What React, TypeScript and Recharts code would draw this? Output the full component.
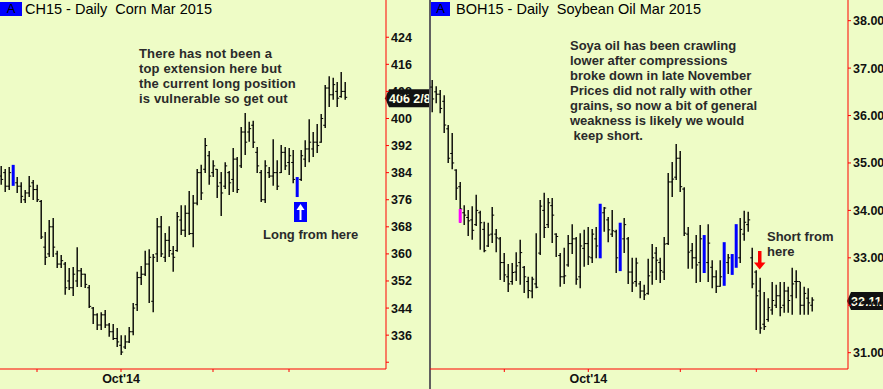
import React from "react";
import { ComposedChart, Bar, XAxis, YAxis, ReferenceLine } from "recharts";

const FONT = '"Liberation Sans", Arial, Helvetica, sans-serif';
const BG = "#EEFCC6";
const AXIS_RED = "#FF0000";

// CH15 daily corn, Aug-Dec 2014 (cents)
const cornHigh = [
  386.0, 385.1, 385.7, 386.3, 382.7, 381.2, 378.9, 383.0, 381.8, 380.4,
  375.9, 366.5, 370.0, 370.6, 360.9, 359.7, 357.6, 355.8, 356.1, 362.0,
  355.8, 354.1, 350.8, 344.3, 342.5, 342.8, 343.4, 339.6, 339.3, 338.1,
  336.0, 336.0, 338.4, 345.5, 354.7, 356.4, 360.9, 361.4, 360.0, 370.6,
  371.2, 366.2, 368.2, 362.3, 372.4, 374.4, 374.4, 378.6, 377.4, 385.1,
  386.3, 394.2, 390.4, 387.7, 385.1, 384.2, 387.1, 384.5, 391.3, 388.6,
  397.5, 401.6, 399.0, 399.3, 391.6, 384.8, 387.7, 385.7, 393.9, 387.7,
  392.2, 391.6, 391.3, 390.7, 382.7, 390.7, 393.6, 399.8, 396.0, 398.4,
  401.3, 409.9, 412.5, 412.0, 410.8, 413.7, 410.8,
];
const cornLow = [
  380.4, 378.3, 378.9, 380.1, 378.0, 375.0, 375.0, 376.8, 375.9, 375.3,
  364.4, 356.7, 359.1, 359.1, 355.8, 355.8, 347.9, 349.3, 347.6, 350.2,
  350.2, 349.9, 344.0, 339.3, 337.5, 337.5, 338.1, 335.5, 334.6, 332.5,
  330.1, 331.9, 333.7, 336.0, 343.1, 350.8, 353.5, 345.5, 342.8, 357.6,
  359.1, 357.6, 359.1, 354.7, 360.6, 365.6, 365.0, 365.6, 362.0, 374.4,
  375.9, 383.9, 380.4, 382.7, 376.5, 371.2, 379.2, 377.4, 378.3, 378.0,
  385.4, 389.2, 393.1, 391.3, 383.9, 375.3, 375.0, 382.4, 380.1, 378.9,
  383.9, 384.8, 383.3, 380.9, 376.8, 381.5, 385.7, 387.1, 388.6, 389.8,
  392.8, 397.2, 403.4, 405.5, 403.4, 406.1, 405.5,
];
const cornOpen = [
  383, 384, 380, 385, 381, 380, 376, 378, 381, 379,
  375.5, 362, 360, 368, 360, 357, 357, 352, 350, 352,
  355, 354, 350, 344, 342, 339, 342, 339, 337, 335,
  333, 332.5, 334, 337, 345, 353, 354, 357, 346, 360,
  368, 359, 364, 360, 361, 370, 367, 372, 366, 375,
  384, 385, 389, 384, 385, 381, 380, 384, 382, 388,
  386, 396, 396, 398, 390, 384, 376, 384, 383, 384,
  384, 390, 387, 387, 382, 382, 388, 391, 391, 393,
  393, 398, 409, 407, 408, 406.5, 408,
];
const cornClose = [
  382, 380, 384, 381, 380, 377, 378, 380, 379, 376,
  365, 359, 368, 362, 357, 358, 350, 350, 354, 355,
  354, 351, 344.5, 342, 339, 342, 339, 337, 335, 334,
  331, 334, 337, 344, 353, 354, 357, 359, 359, 368,
  360, 364, 361, 359, 371, 367, 372, 366, 375, 384,
  378, 392, 383, 386, 380, 378, 386, 381, 388, 379,
  396, 393, 397, 393, 386, 376, 386, 383, 384, 380,
  390, 386, 389, 382, 379, 389, 391, 393, 393, 392,
  400, 409, 407, 410, 406, 408, 406.25,
];
const cornTickValues = [328, 336, 344, 352, 360, 368, 376, 384, 392, 400, 408, 416, 424];
const cornMonthTicks = [9, 30, 53, 72];
const cornMonthLabels = ["", "Oct'14", "", ""];
const cornMarked: Record<number, { color: string; part: string }> = {
  3: { color: "#0000FF", part: "full" },
  74: { color: "#0000FF", part: "full" },
};

// BOH15 daily soybean oil, Aug-Dec 2014 (cents/lb)
const soyHigh = [
  36.75, 36.62, 36.54, 36.43, 35.80, 35.63, 34.87, 34.60, 34.11, 34.01,
  34.09, 34.33, 33.99, 33.76, 33.74, 34.07, 33.61, 33.44, 33.10, 32.87,
  32.89, 33.12, 33.38, 32.83, 32.60, 32.60, 33.52, 34.22, 34.37, 34.26,
  34.26, 33.52, 33.10, 33.21, 33.48, 33.71, 33.44, 33.52, 33.59, 33.65,
  33.61, 33.65, 34.14, 34.07, 33.86, 34.01, 33.59, 33.74, 33.84, 33.44,
  33.00, 33.00, 32.51, 32.43, 32.98, 33.29, 33.23, 33.00, 33.44, 34.79,
  35.02, 35.40, 35.25, 34.49, 33.65, 33.31, 33.48, 33.69, 33.48, 33.71,
  32.95, 32.74, 32.95, 33.33, 33.08, 33.08, 33.71, 33.84, 33.99, 33.97,
  33.21, 32.74, 32.58, 32.28, 32.15, 32.49, 32.43, 32.49, 32.49, 32.39,
  32.79, 32.74, 32.49, 32.39, 32.36, 32.17,
];
const soyLow = [
  36.07, 36.26, 36.05, 35.63, 35.00, 34.87, 34.22, 33.74, 33.69, 33.46,
  33.38, 33.67, 33.17, 33.12, 33.23, 33.31, 33.12, 32.53, 32.49, 32.28,
  32.43, 32.51, 32.43, 32.26, 32.15, 32.15, 32.36, 33.06, 33.42, 33.63,
  33.31, 33.02, 32.39, 32.45, 32.81, 33.08, 32.43, 32.36, 32.81, 32.85,
  32.89, 32.99, 32.99, 33.55, 33.33, 33.44, 32.68, 32.72, 33.10, 32.45,
  32.28, 32.39, 32.15, 32.11, 32.22, 32.43, 32.53, 32.47, 32.53, 33.27,
  34.28, 34.64, 34.39, 33.46, 32.77, 32.77, 32.47, 32.49, 32.68, 32.49,
  32.36, 32.26, 32.39, 32.41, 32.66, 32.64, 32.79, 32.89, 33.36, 33.55,
  32.36, 31.48, 31.40, 31.48, 31.65, 31.80, 31.94, 31.77, 31.84, 31.84,
  31.80, 32.15, 31.80, 31.80, 31.80, 31.87,
];
const soyOpen = [
  36.60, 36.50, 36.45, 36.30, 35.72, 35.20, 34.85, 34.50, 33.95, 33.85,
  33.80, 33.70, 33.95, 33.60, 33.25, 33.50, 33.50, 33.40, 32.90, 32.60,
  32.50, 32.70, 32.90, 32.80, 32.50, 32.30, 32.45, 33.10, 34.00, 33.70,
  34.10, 33.50, 33.05, 32.60, 32.85, 33.30, 33.40, 32.60, 33.20, 33.30,
  33.00, 33.40, 33.10, 33.95, 33.80, 33.50, 33.55, 33.00, 33.40, 33.40,
  32.70, 32.50, 32.45, 32.30, 32.25, 32.70, 33.10, 32.90, 32.70, 33.30,
  34.60, 34.70, 35.10, 34.45, 33.50, 33.15, 33.00, 32.90, 33.30, 32.90,
  32.80, 32.60, 32.40, 32.50, 32.90, 32.90, 32.90, 33.00, 33.50, 33.70,
  33.00, 32.70, 32.30, 31.60, 31.70, 31.90, 32.00, 32.20, 32.00, 32.30,
  32.20, 32.50, 32.50, 32.00, 32.15, 32.00,
];
const soyClose = [
  36.35, 36.45, 36.15, 35.80, 35.10, 35.00, 34.47, 34.03, 33.90, 33.78,
  33.58, 34.00, 33.74, 33.15, 33.48, 33.90, 33.42, 32.90, 32.64, 32.45,
  32.69, 32.83, 33.11, 32.60, 32.31, 32.55, 32.38, 34.09, 33.64, 34.16,
  33.90, 33.45, 32.60, 32.62, 33.30, 33.40, 32.55, 33.25, 33.30, 33.02,
  33.50, 33.25, 34.00, 34.05, 33.59, 33.57, 33.00, 33.60, 33.70, 32.70,
  32.47, 32.89, 32.30, 32.22, 32.62, 33.00, 32.95, 32.73, 33.29, 34.60,
  34.66, 35.10, 34.50, 33.52, 33.12, 33.00, 32.85, 33.40, 32.80, 33.31,
  32.60, 32.40, 32.60, 33.20, 33.00, 32.80, 33.60, 33.60, 33.75, 33.80,
  32.45, 32.20, 31.52, 31.55, 31.95, 32.10, 32.20, 31.95, 32.30, 32.10,
  32.45, 32.50, 32.00, 32.25, 32.05, 32.11,
];
const soyTickValues = [31, 32, 33, 34, 35, 36, 37, 38];
const soyMonthTicks = [18, 39, 62, 81];
const soyMonthLabels = ["", "Oct'14", "", ""];
const soyMarked: Record<number, { color: string; part: string }> = {
  7: { color: "#FF00FF", part: "lower" },
  42: { color: "#0000FF", part: "full" },
  47: { color: "#0000FF", part: "full" },
  68: { color: "#0000FF", part: "full" },
  73: { color: "#0000FF", part: "full" },
  75: { color: "#0000FF", part: "full" },
  76: { color: "#0000FF", part: "full" },
};

function makeRows(high: number[], low: number[], open: number[], close: number[]) {
  return high.map((h, i) => ({
    i,
    high: h,
    low: low[i],
    open: open[i],
    close: close[i],
    range: [low[i], h],
  }));
}

const cornRows = makeRows(cornHigh, cornLow, cornOpen, cornClose);
const soyRows = makeRows(soyHigh, soyLow, soyOpen, soyClose);

function ohlcShape(marked: Record<number, { color: string; part: string }>) {
  return (props: any) => {
    const { x, y, width, height, payload } = props;
    if (x == null || y == null || !payload) return <g />;
    const cx = Math.round(x + width / 2) + 0.2;
    const top = Math.min(y, y + height);
    const h = Math.abs(height);
    const span = payload.high - payload.low || 1;
    const yOpen = top + ((payload.high - payload.open) / span) * h;
    const yClose = top + ((payload.high - payload.close) / span) * h;
    const mark = marked[payload.i];
    if (mark && mark.part === "full") {
      return <rect x={cx - 1.5} y={top} width={3} height={h} fill={mark.color} />;
    }
    return (
      <g>
        <line x1={cx} x2={cx} y1={top} y2={top + h} stroke="#000" strokeWidth={1.4} />
        <line x1={cx - 2} x2={cx} y1={yOpen} y2={yOpen} stroke="#000" strokeWidth={1} />
        <line x1={cx} x2={cx + 2} y1={yClose} y2={yClose} stroke="#000" strokeWidth={1} />
        {mark && (
          <rect x={cx - 1.5} y={yClose} width={3} height={top + h - yClose} fill={mark.color} />
        )}
      </g>
    );
  };
}

function PriceTag(props: any) {
  const vb = props.viewBox || {};
  const tip = (vb.x || 0) + (vb.width || 0) - 1;
  const cy = (vb.y || 0) + 1;
  const w = 62;
  return (
    <g>
      <path
        d={`M${tip},${cy} L${tip + 4},${cy - 9} L${tip + w},${cy - 9} L${tip + w},${cy + 9} L${tip + 4},${cy + 9} Z`}
        fill="#111"
      />
      <text
        x={tip + 4}
        y={cy + 5}
        fill="#FFFFE6"
        fontSize={12.5}
        fontWeight="bold"
        fontFamily={FONT}
      >
        {props.text}
      </text>
    </g>
  );
}

type PanelProps = {
  rows: any[];
  width: number;
  axisWidth: number;
  xDomain: [number, number];
  yDomain: [number, number];
  yTicks: number[];
  yFormat: (v: number) => string;
  monthTicks: number[];
  monthLabels: string[];
  marked: Record<number, { color: string; part: string }>;
  last: number;
  lastText: string;
};

function Panel(p: PanelProps) {
  return (
    <ComposedChart
      width={p.width}
      height={389}
      data={p.rows}
      margin={{ top: 0, right: 0, bottom: 0, left: 0 }}
    >
      <XAxis
        dataKey="i"
        type="number"
        domain={p.xDomain}
        allowDataOverflow
        ticks={p.monthTicks}
        interval={0}
        height={20}
        stroke={AXIS_RED}
        tickSize={3}
        tickMargin={2}
        tickFormatter={(v: number) => p.monthLabels[p.monthTicks.indexOf(v)] || ""}
        tick={{ fill: "#111", fontSize: 12.5, fontWeight: "bold", fontFamily: FONT }}
      />
      <YAxis
        orientation="right"
        width={p.axisWidth}
        domain={p.yDomain}
        allowDataOverflow
        ticks={p.yTicks}
        interval={0}
        stroke={AXIS_RED}
        tickSize={3}
        tickMargin={2}
        tickFormatter={p.yFormat}
        tick={{ fill: "#111", fontSize: 12.5, fontWeight: "bold", fontFamily: FONT }}
      />
      <Bar
        dataKey="range"
        barSize={3}
        isAnimationActive={false}
        shape={ohlcShape(p.marked)}
      />
      <ReferenceLine
        y={p.last}
        stroke="none"
        ifOverflow="visible"
        label={(lp: any) => <PriceTag viewBox={lp.viewBox} text={p.lastText} />}
      />
    </ComposedChart>
  );
}

const textStyle: React.CSSProperties = {
  position: "absolute",
  fontFamily: FONT,
  fontSize: 13,
  fontWeight: "bold",
  color: "#2a2a2a",
  lineHeight: "15px",
  whiteSpace: "pre",
};

const titleStyle: React.CSSProperties = {
  position: "absolute",
  top: 1,
  fontFamily: FONT,
  fontSize: 14.5,
  color: "#000",
  whiteSpace: "pre",
  lineHeight: "16px",
};

function ABox({ left, width }: { left: number; width: number }) {
  return (
    <div
      style={{
        position: "absolute",
        left,
        top: 2,
        width,
        height: 14,
        background: "#0000FF",
        color: "#000",
        fontFamily: FONT,
        fontSize: 13,
        lineHeight: "14px",
        textAlign: "center",
      }}
    >
      A
    </div>
  );
}

export default function App() {
  return (
    <div
      style={{
        position: "relative",
        width: 883,
        height: 389,
        background: BG,
        overflow: "hidden",
        fontFamily: FONT,
      }}
    >
      <style>{"body{margin:0}"}</style>
      <div style={{ position: "absolute", left: 0, top: 0 }}>
        <Panel
          rows={cornRows}
          width={429}
          axisWidth={43}
          xDomain={[-0.25, 96.25]}
          yDomain={[326, 435]}
          yTicks={cornTickValues}
          yFormat={(v) => (v === 328 ? "" : String(v))}
          monthTicks={cornMonthTicks}
          monthLabels={cornMonthLabels}
          marked={cornMarked}
          last={406.25}
          lastText="406 2/8"
        />
      </div>
      <div
        style={{ position: "absolute", left: 429, top: 0, width: 1.5, height: 389, background: "#606060" }}
      />
      <div style={{ position: "absolute", left: 430, top: 0 }}>
        <Panel
          rows={soyRows}
          width={453}
          axisWidth={35}
          xDomain={[-0.575, 103.925]}
          yDomain={[30.656, 38.436]}
          yTicks={soyTickValues}
          yFormat={(v) => v.toFixed(2)}
          monthTicks={soyMonthTicks}
          monthLabels={soyMonthLabels}
          marked={soyMarked}
          last={32.11}
          lastText="32.11"
        />
      </div>

      <ABox left={0} width={22} />
      <div style={{ ...titleStyle, left: 25 }}>CH15 - Daily  Corn Mar 2015</div>
      <ABox left={431} width={19} />
      <div style={{ ...titleStyle, left: 456 }}>BOH15 - Daily  Soybean Oil Mar 2015</div>

      <div style={{ ...textStyle, left: 139, top: 46, letterSpacing: 0.15 }}>
        {"There has not been a\ntop extension here but\nthe current long position\nis vulnerable so get out"}
      </div>
      <div style={{ ...textStyle, left: 263, top: 227 }}>Long from here</div>
      <div style={{ ...textStyle, left: 570, top: 38 }}>
        {"Soya oil has been crawling\nlower after compressions\nbroke down in late November\nPrices did not rally with other\ngrains, so now a bit of general\nweakness is likely we would\n keep short."}
      </div>
      <div style={{ ...textStyle, left: 767, top: 229 }}>{"Short from\nhere"}</div>

      <svg
        width={883}
        height={389}
        style={{ position: "absolute", left: 0, top: 0, pointerEvents: "none" }}
      >
        <rect x={294} y={202} width={13} height={20} fill="#0000FF" />
        <rect x={299.5} y={209} width={2} height={11} fill="#FFFFFF" />
        <polygon points="296.5,210 300.5,204 304.5,210" fill="#FFFFFF" />
        <rect x={758} y={251} width={3.5} height={12} fill="#FF0000" />
        <polygon points="754,262.5 765.5,262.5 759.7,269.5" fill="#FF0000" />
      </svg>
    </div>
  );
}
